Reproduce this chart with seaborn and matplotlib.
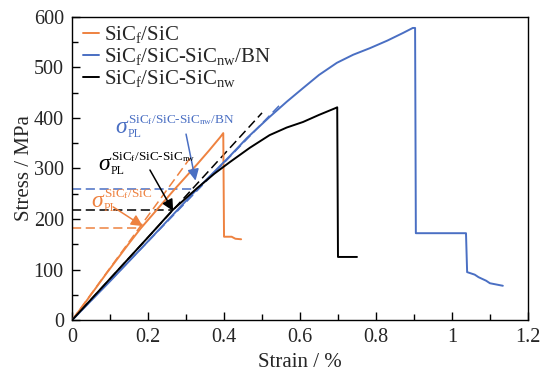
import numpy as np
import pandas as pd
import matplotlib
matplotlib.use("Agg")
import matplotlib.pyplot as plt
from matplotlib.ticker import MultipleLocator
import seaborn as sns

# ---------------- data ----------------
orange_strain = [0, 0.03, 0.06, 0.09, 0.12, 0.15, 0.18, 0.21, 0.24, 0.27, 0.30, 0.33, 0.36, 0.39, 0.398,
                 0.400, 0.42, 0.43, 0.445]
orange_stress = [0, 30, 61, 92, 122, 152, 181, 207, 233, 259, 284, 309, 335, 362, 370,
                 165, 165, 161, 160]

blue_strain = [0, 0.1, 0.2, 0.3, 0.33, 0.416, 0.46, 0.52, 0.565, 0.608, 0.65, 0.697, 0.74, 0.784, 0.83,
               0.871, 0.897, 0.903, 0.905, 1.037, 1.040, 1.06, 1.07, 1.09, 1.10, 1.134]
blue_stress = [0, 77, 156, 236, 260, 325, 360, 402, 432, 459, 485, 509, 525, 538, 553,
               568, 578, 578, 172, 172, 95, 90, 85, 78, 73, 68]

black_strain = [0, 0.1, 0.2, 0.265, 0.329, 0.375, 0.416, 0.468, 0.52, 0.565, 0.608, 0.65, 0.692, 0.698,
                0.700, 0.75]
black_stress = [0, 82, 164, 218, 261, 290, 313, 341, 366, 381, 392, 406, 419, 421,
                125, 125]

series_names = ["SiC$_{\\rm f}$/SiC",
                "SiC$_{\\rm f}$/SiC-SiC$_{\\rm nw}$/BN",
                "SiC$_{\\rm f}$/SiC-SiC$_{\\rm nw}$"]
series_colors = ["#EE8240", "#4A6FC3", "#000000"]
pl_superscripts = [r"$\rm SiC_f/SiC$",
                   r"$\rm SiC_f/SiC\text{-}SiC_{nw}/BN$",
                   r"$\rm SiC_f/SiC\text{-}SiC_{nw}$"]

# proportional-limit stresses and strain where the horizontal guide ends
pl_stress = [182, 260, 218]
pl_strain = [0.18, 0.32, 0.26]
# initial-modulus (linear fit) guide lines: end points from the origin
fit_end_strain = [0.31, 0.55, 0.50]
fit_end_stress = [320, 428, 410]

x_ticks = [0, 0.2, 0.4, 0.6, 0.8, 1.0, 1.2]
x_tick_labels = ["0", "0.2", "0.4", "0.6", "0.8", "1", "1.2"]
y_ticks = [0, 100, 200, 300, 400, 500, 600]

# ---------------- style ----------------
sns.set_theme(style="ticks")
plt.rcParams["font.family"] = ["Liberation Serif", "DejaVu Serif"]
plt.rcParams["mathtext.fontset"] = "custom"
plt.rcParams["mathtext.rm"] = "Liberation Serif"
plt.rcParams["mathtext.it"] = "Liberation Serif:italic"
plt.rcParams["mathtext.bf"] = "Liberation Serif:bold"

df = pd.concat([
    pd.DataFrame({"strain": orange_strain, "stress": orange_stress, "s": series_names[0]}),
    pd.DataFrame({"strain": blue_strain, "stress": blue_stress, "s": series_names[1]}),
    pd.DataFrame({"strain": black_strain, "stress": black_stress, "s": series_names[2]}),
], ignore_index=True)

fig = plt.figure(figsize=(5.42, 3.74), dpi=100)
ax = fig.add_axes([0.133, 0.144, 0.841, 0.811])

# guide lines (dashed)
for c, lvl, xe, fx, fy in zip(series_colors, pl_stress, pl_strain, fit_end_strain, fit_end_stress):
    ax.plot([0, xe], [lvl, lvl], ls=(0, (6, 3)), color=c, lw=1.1, zorder=2)
    ax.plot([0, fx], [0, fy], ls=(0, (6, 3)), color=c, lw=1.1, zorder=2)

sns.lineplot(data=df, x="strain", y="stress", hue="s", units="s", estimator=None, sort=False,
             palette=dict(zip(series_names, series_colors)), hue_order=series_names,
             lw=1.4, ax=ax, zorder=3, legend=False)

handles = [plt.Line2D([], [], color=c, lw=1.4) for c in series_colors]
ax.legend(handles, series_names, loc="upper left", frameon=False, fontsize=15,
          handlelength=0.75, handletextpad=0.25, labelspacing=0.05,
          borderaxespad=0.25, bbox_to_anchor=(-0.005, 1.02))


def sigma_label(x, y, sup, color):
    """sigma_PL with a superscript, placed with its left baseline at (x, y)."""
    ax.annotate(r"$\sigma$", xy=(x, y), xytext=(0, 0), textcoords="offset pixels",
                fontsize=17, color=color, ha="left", va="baseline")
    ax.annotate(sup, xy=(x, y), xytext=(13, 10), textcoords="offset pixels",
                fontsize=9.5, color=color, ha="left", va="baseline")
    ax.annotate("PL", xy=(x, y), xytext=(13, -4), textcoords="offset pixels",
                fontsize=8.5, color=color, ha="left", va="baseline")


arrow = dict(arrowstyle="-|>", lw=1.1, mutation_scale=17, shrinkA=0, shrinkB=0)
# label anchors (left baseline of sigma) and arrow tails/heads
label_xy = [(0.050, 224), (0.113, 370), (0.068, 297)]
arrow_tail = [(0.108, 224), (0.300, 368), (0.205, 297)]
arrow_head = [(0.186, 186), (0.325, 276), (0.266, 216)]
for c, sup, lxy, t, h in zip(series_colors, pl_superscripts, label_xy, arrow_tail, arrow_head):
    sigma_label(lxy[0], lxy[1], sup, c)
    ax.annotate("", xy=h, xytext=t, arrowprops=dict(arrow, color=c))

ax.set_xlim(0, 1.2)
ax.set_ylim(0, 600)
ax.set_xticks(x_ticks)
ax.set_xticklabels(x_tick_labels)
ax.set_yticks(y_ticks)
ax.xaxis.set_minor_locator(MultipleLocator(0.1))
ax.yaxis.set_minor_locator(MultipleLocator(50))
ax.tick_params(which="both", direction="in", top=False, right=False, labelsize=14.5, color="black")
ax.tick_params(axis="x", which="major", pad=6)
ax.tick_params(axis="y", which="major", pad=6)
ax.tick_params(which="major", length=6, width=1)
ax.tick_params(which="minor", length=4, width=1)
for s in ax.spines.values():
    s.set_visible(True)
    s.set_color("black")
    s.set_linewidth(1.0)
ax.set_xlabel("Strain / %", fontsize=15, labelpad=4)
ax.set_ylabel("Stress / MPa", fontsize=15, labelpad=0)

fig.savefig("out.png", dpi=100)
